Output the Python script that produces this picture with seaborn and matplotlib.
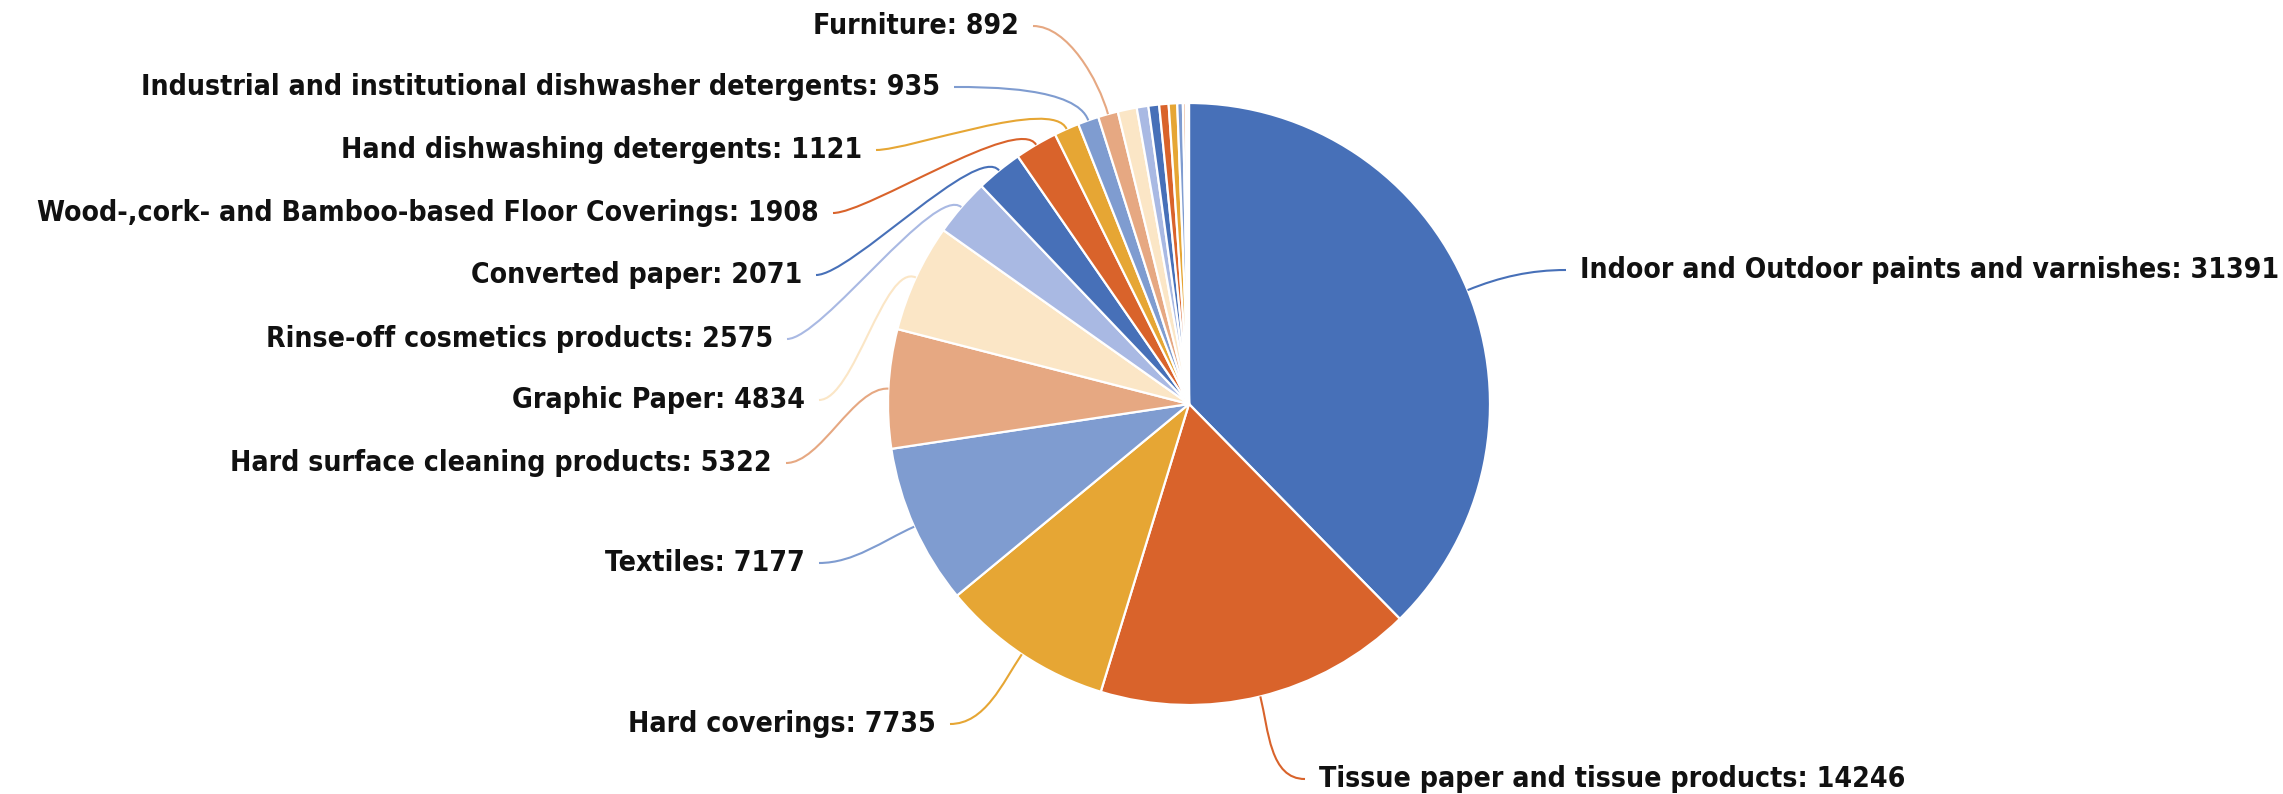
import numpy as np
import matplotlib
matplotlib.use("Agg")
import matplotlib.pyplot as plt
from matplotlib.path import Path
from matplotlib.patches import PathPatch
import seaborn as sns

# --------------------------
# Data
# --------------------------
categories = [
    "Indoor and Outdoor paints and varnishes",
    "Tissue paper and tissue products",
    "Hard coverings",
    "Textiles",
    "Hard surface cleaning products",
    "Graphic Paper",
    "Rinse-off cosmetics products",
    "Converted paper",
    "Wood-,cork- and Bamboo-based Floor Coverings",
    "Hand dishwashing detergents",
    "Industrial and institutional dishwasher detergents",
    "Furniture",
    "Laundry detergents",
    "Lubricants",
    "Detergents for dishwashers",
    "Industrial and institutional laundry detergents",
    "Absorbent hygiene products",
    "Mattresses",
    "Growing media and soil improvers",
    "Footwear",
    "Imaging equipment",
]
values = [31391, 14246, 7735, 7177, 5322, 4834, 2575, 2071, 1908, 1121, 935, 892,
          850, 520, 480, 420, 380, 250, 130, 90, 50]
n_labeled = 12

palette_hex = ["#4770B8", "#D9632B", "#E6A634", "#7F9CD0", "#E6A882", "#FBE6C6", "#A9B9E3"]

# label layout (pixel coords, y from top): x, y, alignment
label_layout = [
    (1580, 270, "left"),
    (1319, 779, "left"),
    (936, 724, "right"),
    (805, 563, "right"),
    (772, 463, "right"),
    (805, 400, "right"),
    (773, 339, "right"),
    (802, 275, "right"),
    (819, 213, "right"),
    (862, 150, "right"),
    (940, 87, "right"),
    (1019, 26, "right"),
]

W, H = 2283, 794
CX, CY, R = 1189, 404, 301

sns.set_theme(style="white")
plt.rcParams["font.family"] = ["DejaVu Sans"]

colors = [sns.color_palette(palette_hex)[i % len(palette_hex)] for i in range(len(values))]

fig = plt.figure(figsize=(W / 100, H / 100), dpi=100)
ax = fig.add_axes([0, 0, 1, 1])

wedges, _ = ax.pie(values, colors=colors, startangle=90, counterclock=False,
                   center=(CX, H - CY), radius=R,
                   wedgeprops=dict(edgecolor="white", linewidth=1.6))
ax.set_xlim(0, W)
ax.set_ylim(0, H)
ax.set_aspect("equal")
ax.axis("off")

# connectors + labels
for i in range(n_labeled):
    w = wedges[i]
    ang = np.deg2rad((w.theta1 + w.theta2) / 2)
    u = np.array([np.cos(ang), np.sin(ang)])
    c = np.array([CX, H - CY])
    p0 = c + R * u
    p1 = c + (R + 35) * u
    tx, ty, ha = label_layout[i]
    ty = H - ty
    gap = 14
    if ha == "right":
        end = np.array([tx + gap, ty])
        p2 = end + np.array([35, 0])
    else:
        end = np.array([tx - gap, ty])
        p2 = end - np.array([35, 0])
    path = Path([p0, p1, p2, end], [Path.MOVETO, Path.CURVE4, Path.CURVE4, Path.CURVE4])
    ax.add_patch(PathPatch(path, fc="none", ec=colors[i], lw=1.5))
    ax.text(tx, ty, f"{categories[i]}: {values[i]}", ha=ha, va="center",
            fontsize=20.3, fontweight="bold", fontstretch="condensed", color="#111111")

fig.savefig("out.png", dpi=100, facecolor="white")
